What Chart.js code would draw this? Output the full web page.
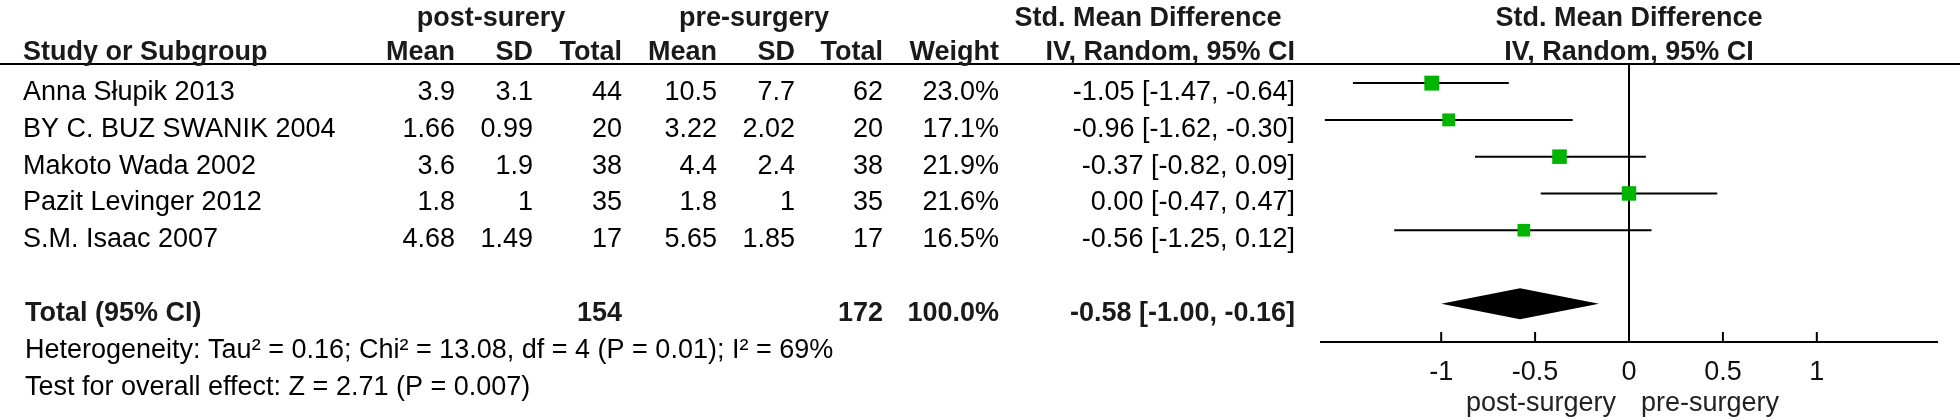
<!DOCTYPE html>
<html>
<head>
<meta charset="utf-8">
<title>Forest plot</title>
<script src="https://cdn.jsdelivr.net/npm/chart.js@4.4.1/dist/chart.umd.min.js"></script>
<style>
  body { margin: 0; background: #fff; }
  canvas { display: block; }
</style>
</head>
<body>
<canvas id="forest" width="1960" height="420"></canvas>
<script>
const studies = ['Anna Słupik 2013', 'BY C. BUZ SWANIK 2004', 'Makoto Wada 2002', 'Pazit Levinger 2012', 'S.M. Isaac 2007'];
const postMean = [3.9, 1.66, 3.6, 1.8, 4.68];
const postSD = [3.1, 0.99, 1.9, 1, 1.49];
const postN = [44, 20, 38, 35, 17];
const preMean = [10.5, 3.22, 4.4, 1.8, 5.65];
const preSD = [7.7, 2.02, 2.4, 1, 1.85];
const preN = [62, 20, 38, 35, 17];
const weight = [23.0, 17.1, 21.9, 21.6, 16.5];
const smd = [-1.05, -0.96, -0.37, 0.00, -0.56];
const ciLow = [-1.47, -1.62, -0.82, -0.47, -1.25];
const ciHigh = [-0.64, -0.30, 0.09, 0.47, 0.12];

const totalPostN = 154;
const totalPreN = 172;
const totalWeight = 100.0;
const totalSmd = -0.58;
const totalLow = -1.00;
const totalHigh = -0.16;

const xTicks = [-1, -0.5, 0, 0.5, 1];
const heterogeneity = 'Heterogeneity: Tau\u00b2 = 0.16; Chi\u00b2 = 13.08, df = 4 (P = 0.01); I\u00b2 = 69%';
const overallTest = 'Test for overall effect: Z = 2.71 (P = 0.007)';

const FAMILY = "'Liberation Sans', Arial, sans-serif";
const TOTAL_ROW = studies.length + 2;

const f2 = v => v.toFixed(2);
const ciText = (e, lo, hi) => f2(e) + ' [' + f2(lo) + ', ' + f2(hi) + ']';

function text(ctx, str, x, y, align, bold) {
  ctx.font = (bold ? 'bold ' : '') + '27px ' + FAMILY;
  ctx.textAlign = align;
  ctx.textBaseline = 'alphabetic';
  ctx.fillText(str, x, y);
}

// zero line, drawn under the markers
const zeroLine = {
  id: 'zeroLine',
  beforeDatasetsDraw(chart) {
    const { ctx, chartArea } = chart;
    const px = chart.scales.x.getPixelForValue(0);
    ctx.save();
    ctx.strokeStyle = '#000';
    ctx.lineWidth = 2;
    ctx.beginPath();
    ctx.moveTo(px, chartArea.top);
    ctx.lineTo(px, chartArea.bottom);
    ctx.stroke();
    ctx.restore();
  }
};

// pooled estimate diamond
const diamond = {
  id: 'diamond',
  afterDatasetsDraw(chart) {
    const { ctx } = chart;
    const x = chart.scales.x;
    const y = chart.scales.y;
    const cy = y.getPixelForValue(TOTAL_ROW);
    const h = 15.5;
    ctx.save();
    ctx.fillStyle = '#000';
    ctx.beginPath();
    ctx.moveTo(x.getPixelForValue(totalLow), cy);
    ctx.lineTo(x.getPixelForValue(totalSmd), cy - h);
    ctx.lineTo(x.getPixelForValue(totalHigh), cy);
    ctx.lineTo(x.getPixelForValue(totalSmd), cy + h);
    ctx.closePath();
    ctx.fill();
    ctx.restore();
  }
};

// table columns, header rule, axis ticks and direction labels
const table = {
  id: 'table',
  afterDraw(chart) {
    const { ctx, chartArea } = chart;
    const x = chart.scales.x;
    const y = chart.scales.y;
    const zero = x.getPixelForValue(0);
    ctx.save();

    ctx.strokeStyle = '#000';
    ctx.lineWidth = 2;
    ctx.beginPath();
    ctx.moveTo(0, chartArea.top);
    ctx.lineTo(chart.width, chartArea.top);
    ctx.stroke();

    x.ticks.forEach(t => {
      const px = x.getPixelForValue(t.value);
      ctx.beginPath();
      ctx.moveTo(px, chartArea.bottom);
      ctx.lineTo(px, chartArea.bottom - 10);
      ctx.stroke();
    });

    ctx.fillStyle = '#1a1a1a';
    text(ctx, 'post-surery', 491, 26, 'center', true);
    text(ctx, 'pre-surgery', 754, 26, 'center', true);
    text(ctx, 'Std. Mean Difference', 1148, 26, 'center', true);
    text(ctx, 'Std. Mean Difference', zero, 26, 'center', true);

    text(ctx, 'Study or Subgroup', 23, 60, 'left', true);
    text(ctx, 'Mean', 455, 60, 'right', true);
    text(ctx, 'SD', 533, 60, 'right', true);
    text(ctx, 'Total', 622, 60, 'right', true);
    text(ctx, 'Mean', 717, 60, 'right', true);
    text(ctx, 'SD', 795, 60, 'right', true);
    text(ctx, 'Total', 883, 60, 'right', true);
    text(ctx, 'Weight', 999, 60, 'right', true);
    text(ctx, 'IV, Random, 95% CI', 1295, 60, 'right', true);
    text(ctx, 'IV, Random, 95% CI', zero, 60, 'center', true);

    ctx.fillStyle = '#000';
    studies.forEach((name, i) => {
      const by = y.getPixelForValue(i + 1) + 17;
      text(ctx, name, 23, by, 'left');
      text(ctx, String(postMean[i]), 455, by, 'right');
      text(ctx, String(postSD[i]), 533, by, 'right');
      text(ctx, String(postN[i]), 622, by, 'right');
      text(ctx, String(preMean[i]), 717, by, 'right');
      text(ctx, String(preSD[i]), 795, by, 'right');
      text(ctx, String(preN[i]), 883, by, 'right');
      text(ctx, weight[i].toFixed(1) + '%', 999, by, 'right');
      text(ctx, ciText(smd[i], ciLow[i], ciHigh[i]), 1295, by, 'right');
    });

    ctx.fillStyle = '#1a1a1a';
    const ty = y.getPixelForValue(TOTAL_ROW) + 17;
    text(ctx, 'Total (95% CI)', 25, ty, 'left', true);
    text(ctx, String(totalPostN), 622, ty, 'right', true);
    text(ctx, String(totalPreN), 883, ty, 'right', true);
    text(ctx, totalWeight.toFixed(1) + '%', 999, ty, 'right', true);
    text(ctx, ciText(totalSmd, totalLow, totalHigh), 1295, ty, 'right', true);

    ctx.fillStyle = '#000';
    text(ctx, heterogeneity, 25, 358, 'left');
    text(ctx, overallTest, 25, 395, 'left');

    ctx.fillStyle = '#222';
    text(ctx, 'post-surgery', zero - 13, 411, 'right');
    text(ctx, 'pre-surgery', zero + 12, 411, 'left');
    ctx.restore();
  }
};

const ciSets = studies.map((s, i) => ({
  label: s,
  data: [{ x: ciLow[i], y: i + 1 }, { x: ciHigh[i], y: i + 1 }],
  showLine: true,
  borderColor: '#000',
  borderWidth: 2,
  pointRadius: 0
}));

new Chart(document.getElementById('forest'), {
  type: 'scatter',
  data: {
    datasets: [
      {
        label: 'SMD',
        data: smd.map((v, i) => ({ x: v, y: i + 1 })),
        pointStyle: 'rect',
        pointRadius: c => Math.sqrt(weight[c.dataIndex]) * 2.2,
        backgroundColor: '#00b400',
        borderColor: '#00b400',
        borderWidth: 0
      },
      ...ciSets
    ]
  },
  options: {
    responsive: false,
    animation: false,
    devicePixelRatio: 1,
    events: [],
    layout: { padding: { left: 1321, right: 23, top: 64, bottom: 0 } },
    plugins: { legend: { display: false }, tooltip: { enabled: false } },
    scales: {
      x: {
        type: 'linear',
        position: 'bottom',
        min: -1.64,
        max: 1.64,
        afterBuildTicks: s => { s.ticks = xTicks.map(v => ({ value: v })); },
        afterFit: s => { s.height = 78; },
        grid: { display: false },
        border: { display: true, color: '#000', width: 2 },
        ticks: { font: { family: FAMILY, size: 27 }, color: '#111', padding: 6, callback: v => String(v) }
      },
      y: {
        type: 'linear',
        min: 0.48,
        max: 8.04,
        reverse: true,
        display: false
      }
    }
  },
  plugins: [zeroLine, diamond, table]
});
</script>
</body>
</html>
